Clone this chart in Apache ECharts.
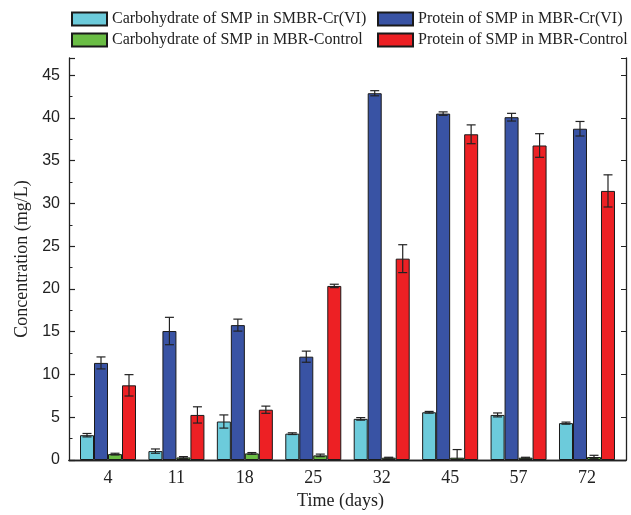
<!DOCTYPE html>
<html><head><meta charset="utf-8">
<script src="https://cdn.jsdelivr.net/npm/echarts@6/dist/echarts.min.js"></script>
<style>html,body{margin:0;padding:0;background:#fff}#c{width:631px;height:515px}</style>
</head><body><div id="c"></div>
<script>
// ---- data ----
const days = ['4', '11', '18', '25', '32', '45', '57', '72'];
const names = [
  'Carbohydrate of SMP in SMBR-Cr(VI)',
  'Protein of SMP in MBR-Cr(VI)',
  'Carbohydrate of SMP in MBR-Control',
  'Protein of SMP in MBR-Control'
];
const carbCr     = [2.9, 1.04, 4.5, 3.08, 4.81, 5.58, 5.27, 4.31];
const carbCrErr  = [0.2, 0.25, 0.77, 0.1, 0.15, 0.1, 0.23, 0.12];
const protCr     = [11.35, 15.08, 15.77, 12.08, 42.88, 40.5, 40.08, 38.73];
const protCrErr  = [0.7, 1.6, 0.7, 0.65, 0.3, 0.2, 0.45, 0.85];
const carbCtl    = [0.69, 0.3, 0.77, 0.54, 0.27, 0.27, 0.27, 0.35];
const carbCtlErr = [0.1, 0.1, 0.1, 0.15, 0.05, 0.95, 0.05, 0.2];
const protCtl    = [8.73, 5.27, 5.88, 20.35, 23.54, 38.08, 36.77, 31.46];
const protCtlErr = [1.25, 0.95, 0.42, 0.2, 1.63, 1.1, 1.38, 1.88];
const yTicks = [0, 5, 10, 15, 20, 25, 30, 35, 40, 45];

// ---- styles ----
const colors = ['#6ccbdb', '#3953a4', '#6abd45', '#ed2024'];
const BAR_W = 14;
const SERIF = 'Liberation Serif, Times New Roman, serif';
const SANS = 'Liberation Sans, Arial, sans-serif';
const vals = [carbCr, protCr, carbCtl, protCtl];
const errs = [carbCrErr, protCrErr, carbCtlErr, protCtlErr];
const xPos = days.map((d, i) => i + 1);

const series = [];
vals.forEach((arr, k) => {
  series.push({
    name: names[k], type: 'bar', xAxisIndex: 0, yAxisIndex: 0,
    barWidth: BAR_W, barGap: '0%',
    itemStyle: { color: colors[k], borderColor: '#1a1a1a', borderWidth: 1 },
    data: arr.map((v, i) => [xPos[i], v]),
    z: 2
  });
});
errs.forEach((arr, k) => {
  const off = (k - 1.5) * BAR_W;
  series.push({
    type: 'custom', xAxisIndex: 0, yAxisIndex: 0, z: 5, clip: true,
    data: arr.map((e, i) => [xPos[i], vals[k][i] - e, vals[k][i] + e]),
    renderItem: function (params, api) {
      const x = api.value(0);
      const lo = api.coord([x, api.value(1)]);
      const hi = api.coord([x, api.value(2)]);
      const cx = lo[0] + off;
      const cap = 4.5;
      const st = { stroke: '#222', lineWidth: 1.2 };
      return {
        type: 'group', children: [
          { type: 'line', shape: { x1: cx, y1: lo[1], x2: cx, y2: hi[1] }, style: st },
          { type: 'line', shape: { x1: cx - cap, y1: lo[1], x2: cx + cap, y2: lo[1] }, style: st },
          { type: 'line', shape: { x1: cx - cap, y1: hi[1], x2: cx + cap, y2: hi[1] }, style: st }
        ]
      };
    }
  });
});

const legendBase = {
  orient: 'horizontal', itemWidth: 35, itemHeight: 13, itemGap: 0, padding: 0,
  icon: 'rect', selectedMode: false,
  textStyle: { fontFamily: SERIF, fontSize: 16, color: '#222' }
};
const legends = [
  Object.assign({}, legendBase, { data: [names[0]], left: 71, top: 11 }),
  Object.assign({}, legendBase, { data: [names[1]], left: 377, top: 11 }),
  Object.assign({}, legendBase, { data: [names[2]], left: 71, top: 32 }),
  Object.assign({}, legendBase, { data: [names[3]], left: 377, top: 32 })
];

const axisLine = { show: true, lineStyle: { color: '#222', width: 1.3 } };

const option = {
  animation: false,
  backgroundColor: '#fff',
  legend: legends,
  grid: { left: 69, right: 5, top: 58, bottom: 50, containLabel: false },
  xAxis: [
    {
      type: 'value', min: 0.43, max: 8.57, position: 'bottom',
      axisLine: axisLine, axisTick: { show: false }, splitLine: { show: false },
      axisLabel: {
        customValues: xPos, margin: 9,
        formatter: v => days[Math.round(v) - 1],
        fontFamily: SERIF, fontSize: 18, color: '#222'
      },
      name: 'Time (days)', nameLocation: 'middle', nameGap: 32,
      nameTextStyle: { fontFamily: SERIF, fontSize: 18, color: '#222', padding: [0, 14, 0, 0] }
    },
    {
      type: 'value', min: 0.43, max: 8.57, position: 'top',
      axisLine: axisLine, axisTick: { show: false }, axisLabel: { show: false }, splitLine: { show: false }
    }
  ],
  yAxis: [
    {
      type: 'value', min: 0, max: 47, interval: 5, position: 'left',
      axisLine: axisLine,
      axisTick: { show: true, inside: true, length: 6, lineStyle: { color: '#222', width: 1.2 } },
      minorTick: { show: true, splitNumber: 2, length: 3.5, lineStyle: { color: '#222', width: 1 } },
      splitLine: { show: false }, minorSplitLine: { show: false },
      axisLabel: {
        customValues: yTicks, margin: 9,
        fontFamily: SANS, fontSize: 16, color: '#222'
      },
      name: 'Concentration (mg/L)', nameLocation: 'middle', nameGap: 38,
      nameTextStyle: { fontFamily: SERIF, fontSize: 18, color: '#222' }
    },
    {
      type: 'value', min: 0, max: 47, interval: 5, position: 'right',
      axisLine: axisLine,
      axisTick: { show: true, inside: true, length: 5, lineStyle: { color: '#222', width: 1 } },
      minorTick: { show: false },
      splitLine: { show: false }, axisLabel: { show: false }
    }
  ],
  series: series
};

const chart = echarts.init(document.getElementById('c'), null, { renderer: 'canvas' });
chart.setOption(option);
</script>
</body></html>
